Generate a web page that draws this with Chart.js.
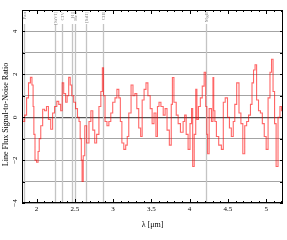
<!DOCTYPE html>
<html>
<head>
<meta charset="utf-8">
<script src="https://cdn.jsdelivr.net/npm/chart.js@4.4.0/dist/chart.umd.min.js"></script>
<style>
  html, body { margin: 0; padding: 0; background: #fff; }
  #wrap { width: 287px; height: 240px; }
</style>
</head>
<body>
<div id="wrap"><canvas id="snr"></canvas></div>
<script>
// wavelength (micron) and signal-to-noise
const wavelength = [1.812, 1.83, 1.86, 1.88, 1.91, 1.93, 1.95, 1.96, 1.97, 1.99, 2.01, 2.03, 2.04, 2.07, 2.09,
  2.12, 2.14, 2.17, 2.20, 2.22, 2.25, 2.28, 2.30, 2.33, 2.34, 2.37, 2.39, 2.41, 2.43, 2.45, 2.47, 2.50, 2.52,
  2.55, 2.56, 2.58, 2.59, 2.60, 2.62, 2.64, 2.67, 2.70, 2.72, 2.75, 2.77, 2.80, 2.83, 2.85, 2.87, 2.88, 2.91,
  2.93, 2.96, 2.98, 3.01, 3.04, 3.06, 3.09, 3.10, 3.13, 3.15, 3.18, 3.19, 3.22, 3.25, 3.27, 3.30, 3.32, 3.35,
  3.37, 3.39, 3.42, 3.44, 3.47, 3.50, 3.52, 3.55, 3.57, 3.59, 3.61, 3.64, 3.67, 3.69, 3.72, 3.75, 3.77, 3.78,
  3.81, 3.84, 3.86, 3.90, 3.93, 3.94, 3.97, 3.99, 4.02, 4.03, 4.05, 4.07, 4.09, 4.10, 4.13, 4.15, 4.18, 4.20,
  4.22, 4.23, 4.24, 4.27, 4.30, 4.31, 4.32, 4.34, 4.36, 4.40, 4.43, 4.45, 4.48, 4.51, 4.53, 4.56, 4.58, 4.60,
  4.63, 4.66, 4.68, 4.71, 4.73, 4.76, 4.78, 4.81, 4.82, 4.85, 4.86, 4.89, 4.91, 4.94, 4.96, 4.99, 5.01, 5.04,
  5.06, 5.08, 5.10, 5.12, 5.14, 5.17, 5.19, 5.21];
const snr = [-0.1, -0.2, 0.1, 0.9, 1.6, 1.86, 1.5, 0.5, -0.8, -2.0, -2.1, -1.6, -1.0, -0.4, 0.37,
  0.3, 0.5, -0.1, -0.56, 0.2, 0.5, 0.74, 0.6, 0.3, 1.6, 1.1, 0.7, 1.0, 1.86, 1.5, 1.0, 0.7, 0.4,
  0.0, -0.2, -1.0, -2.0, -3.0, -1.8, -0.4, -1.2, -0.2, 0.3, -0.6, -1.2, -0.8, 0.5, 1.2, 2.3, 1.0, -0.2,
  -0.4, -0.2, 0.2, 0.7, 0.9, 1.3, 0.9, -0.2, -1.2, -1.5, -1.3, -0.9, 0.2, 1.5, 1.0, 1.1, 0.4, -0.5,
  -0.9, 0.8, 1.3, 1.6, 1.0, 0.4, -0.3, 0.2, -0.9, 0.5, 0.7, 0.5, 0.1, 0.4, -0.6, -1.3, 0.6, 1.85,
  0.7, 0.1, -0.3, -0.7, -0.2, 0.1, -0.8, -1.5, -0.3, 0.4, -2.3, -0.8, 1.3, -0.1, 0.5, 0.9, 1.45, 2.1,
  0.5, -0.8, -1.7, 0.4, -0.2, 1.85, 0.3, -0.2, -0.9, -1.3, -1.5, 0.7, 0.9, 0.0, -0.5, -0.9, -0.2, 0.6,
  1.6, 0.2, -0.3, -1.7, -0.4, -0.2, 0.1, 0.6, 1.6, 2.2, 2.45, 0.8, 0.3, 0.2, -0.3, -0.9, -1.5, 0.9,
  2.1, 2.7, 1.2, -0.3, -2.3, 0.0, 0.5, 0.3];

// marked spectral lines
const lineWaves = [1.84, 2.236, 2.33, 2.46, 2.50, 2.64, 2.87, 4.22];
const lineNames = ["Paα", "[SiVI]", "CIV", "H I", "He I", "[SiII]", "CIII", "MgII"];

const xTicks = [2, 2.5, 3, 3.5, 4, 4.5, 5];
const yTicks = [-4, -2, 0, 2, 4];

const serif = "'Liberation Serif', 'DejaVu Serif', serif";

const points = wavelength.map((w, i) => ({ x: w, y: snr[i] }));

// spectral lines behind the data, frame + inward ticks + rotated labels on top
const overlay = {
  id: "overlay",
  beforeDatasetsDraw(chart) {
    const { ctx, chartArea: a, scales: { x } } = chart;
    ctx.save();
    ctx.strokeStyle = "#c4c4c4";
    ctx.lineWidth = 1.3;
    lineWaves.forEach((w, i) => {
      const px = Math.round(x.getPixelForValue(w)) + 0.5;
      ctx.beginPath();
      ctx.moveTo(px, a.top + 14);
      ctx.lineTo(px, a.bottom);
      ctx.stroke();
      ctx.save();
      ctx.translate(px, a.top + 2);
      ctx.rotate(-Math.PI / 2);
      ctx.fillStyle = "#888";
      ctx.font = "5px " + serif;
      ctx.textAlign = "right";
      ctx.textBaseline = "middle";
      ctx.fillText(lineNames[i], 0, 0);
      ctx.restore();
    });
    ctx.restore();
  },
  afterDraw(chart) {
    const { ctx, chartArea: a, scales: { x, y } } = chart;
    ctx.save();
    ctx.strokeStyle = "#000";
    ctx.lineWidth = 1;
    ctx.strokeRect(a.left + 0.5, a.top + 0.5, a.right - a.left - 1, a.bottom - a.top - 1);

    // x ticks top and bottom, minor every 0.1
    ctx.beginPath();
    for (let k = 19; k <= 52; k++) {
      const v = k / 10;
      if (v < x.min || v > x.max) continue;
      const px = Math.round(x.getPixelForValue(v)) + 0.5;
      const len = k % 5 === 0 ? 4 : 2;
      ctx.moveTo(px, a.bottom);
      ctx.lineTo(px, a.bottom - len);
      ctx.moveTo(px, a.top);
      ctx.lineTo(px, a.top + len);
    }
    // y ticks left and right
    for (let v = -4; v <= 5; v++) {
      const py = Math.round(y.getPixelForValue(v)) + 0.5;
      ctx.moveTo(a.left, py);
      ctx.lineTo(a.left + 3, py);
      ctx.moveTo(a.right, py);
      ctx.lineTo(a.right - 3, py);
    }
    ctx.stroke();

    // rotated y tick labels
    ctx.fillStyle = "#000";
    ctx.font = "7px " + serif;
    ctx.textAlign = "center";
    ctx.textBaseline = "middle";
    yTicks.forEach(v => {
      const py = y.getPixelForValue(v);
      ctx.save();
      ctx.translate(a.left - 7, py);
      ctx.rotate(-Math.PI / 2);
      ctx.fillText(v < 0 ? "\u2212" + Math.abs(v) : String(v), 0, 0);
      ctx.restore();
    });

    // axis titles
    ctx.font = "8px " + serif;
    ctx.fillText("λ [μm]", (a.left + a.right) / 2, a.bottom + 22);
    ctx.save();
    ctx.translate(6, (a.top + a.bottom) / 2 + 8);
    ctx.rotate(-Math.PI / 2);
    ctx.fillText("Line Flux Signal-to-Noise Ratio", 0, 0);
    ctx.restore();
    ctx.restore();
  }
};

new Chart(document.getElementById("snr"), {
  type: "line",
  data: {
    datasets: [
      {
        data: points,
        borderColor: "rgba(255, 0, 0, 0.6)",
        borderWidth: 1.1,
        pointRadius: 0,
        stepped: "middle",
        fill: false
      }
    ]
  },
  options: {
    responsive: true,
    maintainAspectRatio: false,
    animation: false,
    layout: { padding: { top: 10, right: 4, left: 0, bottom: 0 } },
    plugins: {
      legend: { display: false },
      tooltip: { enabled: false }
    },
    scales: {
      x: {
        type: "linear",
        min: 1.81,
        max: 5.22,
        afterFit: s => { s.height = 37; },
        afterBuildTicks: s => { s.ticks = xTicks.map(v => ({ value: v })); },
        border: { display: false },
        grid: { display: false, drawTicks: false, tickLength: 0 },
        ticks: {
          padding: 2,
          maxRotation: 0,
          color: "#000",
          font: { family: serif, size: 7 },
          callback: v => String(v)
        }
      },
      y: {
        min: -4,
        max: 5,
        afterFit: s => { s.width = 22; },
        border: { display: false },
        grid: {
          drawTicks: false,
          color: c => (c.tick && c.tick.value === 0 ? "#555" : "#9a9a9a"),
          lineWidth: c => (c.tick && c.tick.value === 0 ? 1.2 : 0.9)
        },
        ticks: { stepSize: 1, display: false }
      }
    }
  },
  plugins: [overlay]
});
</script>
</body>
</html>
